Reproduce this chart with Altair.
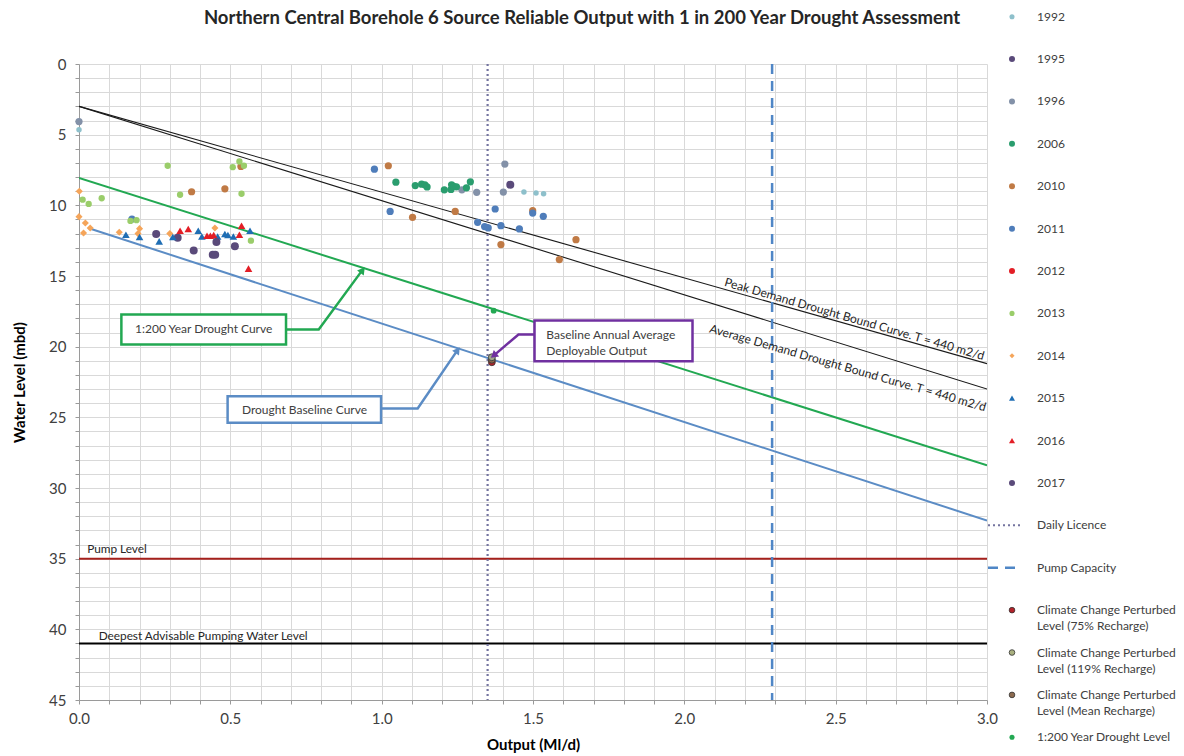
import altair as alt
import pandas as pd

# ---------------------------------------------------------------------------
# Observed operating points: output (Ml/d) and pumping water level (mbd)
# ---------------------------------------------------------------------------
years = ["1992", "1995", "1996", "2006", "2010", "2011",
         "2012", "2013", "2014", "2015", "2016", "2017"]

out_1992 = [0.0, 1.47, 1.51, 1.535]
lvl_1992 = [4.66, 9.06, 9.13, 9.18]

out_1995 = [1.425, 0.255, 0.326]
lvl_1995 = [8.55, 12.03, 12.3]

out_1996 = [0.0, 1.314, 1.402, 1.407, 1.265]
lvl_1996 = [4.07, 9.08, 9.06, 7.08, 8.9]

out_2006 = [1.047, 1.111, 1.132, 1.143, 1.15, 1.207, 1.229, 1.231,
            1.238, 1.247, 1.28, 1.293]
lvl_2006 = [8.36, 8.6, 8.5, 8.55, 8.7, 8.9, 8.88, 8.55,
            8.65, 8.69, 8.76, 8.34]

out_2010 = [0.372, 0.482, 0.535, 1.022, 1.102, 1.243, 1.394, 1.499, 1.642, 1.587]
lvl_2010 = [9.04, 8.83, 7.25, 7.2, 10.85, 10.43, 12.78, 10.38, 12.43, 13.84]

out_2011 = [0.175, 0.976, 1.028, 1.317, 1.34, 1.352, 1.375, 1.394, 1.455, 1.499, 1.534]
lvl_2011 = [10.97, 7.44, 10.43, 11.2, 11.5, 11.6, 10.26, 11.44, 11.67, 10.55, 10.78]

out_2012 = []
lvl_2012 = []

out_2013 = [0.293, 0.508, 0.53, 0.545, 0.012, 0.032, 0.075, 0.334, 0.537, 0.17, 0.19, 0.568]
lvl_2013 = [7.2, 7.3, 6.9, 7.2, 9.6, 9.9, 9.5, 9.25, 9.18, 11.1, 11.05, 12.5]

out_2014 = [0.001, 0.0, 0.021, 0.015, 0.037, 0.133, 0.2, 0.195, 0.3, 0.449]
lvl_2014 = [9.0, 10.8, 11.25, 11.96, 11.6, 11.9, 11.65, 12.0, 12.0, 11.6]

out_2015 = [0.155, 0.2, 0.265, 0.31, 0.394, 0.406, 0.458, 0.482, 0.492, 0.51, 0.565]
lvl_2015 = [12.08, 12.24, 12.55, 12.24, 11.8, 12.2, 12.2, 12.03, 12.1, 12.2, 11.8]

out_2016 = [0.334, 0.361, 0.423, 0.434, 0.445, 0.53, 0.537, 0.56]
lvl_2016 = [11.8, 11.67, 12.15, 12.15, 12.1, 12.08, 11.44, 14.48]

out_2017 = [0.379, 0.442, 0.45, 0.454, 0.515]
lvl_2017 = [13.2, 13.5, 13.5, 12.6, 12.9]

obs_out = {"1992": out_1992, "1995": out_1995, "1996": out_1996, "2006": out_2006,
           "2010": out_2010, "2011": out_2011, "2012": out_2012, "2013": out_2013,
           "2014": out_2014, "2015": out_2015, "2016": out_2016, "2017": out_2017}
obs_lvl = {"1992": lvl_1992, "1995": lvl_1995, "1996": lvl_1996, "2006": lvl_2006,
           "2010": lvl_2010, "2011": lvl_2011, "2012": lvl_2012, "2013": lvl_2013,
           "2014": lvl_2014, "2015": lvl_2015, "2016": lvl_2016, "2017": lvl_2017}

# Drought curves (output vs water level)
peak_out = [0.0, 3.0]
peak_lvl = [3.0, 21.2]
avg_out = [0.0, 3.0]
avg_lvl = [3.0, 23.0]
d200_out = [0.0, 3.0]
d200_lvl = [8.06, 28.4]
base_out = [0.03, 3.0]
base_lvl = [11.6, 32.3]

# Constraints
daily_licence = 1.35      # Ml/d
pump_capacity = 2.29      # Ml/d
pump_level = 35.0         # mbd
deepest_level = 41.0      # mbd

# Deployable output points
cc_names = ["Climate Change Perturbed Level (75% Recharge)",
            "Climate Change Perturbed Level (Mean Recharge)",
            "Climate Change Perturbed Level (119% Recharge)"]
cc_out = [1.364, 1.364, 1.364]
cc_lvl = [21.1, 20.92, 20.75]
d200_pt_out = [1.37]
d200_pt_lvl = [17.45]

# ---------------------------------------------------------------------------
# Styling
# ---------------------------------------------------------------------------
FONT = "Lato"
TXT = "#404040"
GRID = "#D9D9D9"

year_colors = {"1992": "#8EC0CB", "1995": "#5A4A7A", "1996": "#8391A8",
               "2006": "#2A9D6E", "2010": "#C07A45", "2011": "#4F7DBA",
               "2012": "#E31E26", "2013": "#9ACD6A", "2014": "#F5A55A",
               "2015": "#1F6EB4", "2016": "#E31E26", "2017": "#5A4A7A"}
year_shapes = {y: "circle" for y in years}
year_shapes.update({"2014": "diamond", "2015": "triangle-up", "2016": "triangle-up"})
year_sizes = {y: 52 for y in years}
year_sizes.update({"1992": 30, "2013": 40, "1995": 64, "2017": 64,
                   "2015": 58, "2016": 58, "2014": 50})

cc_colors = {"Climate Change Perturbed Level (75% Recharge)": "#B3232A",
             "Climate Change Perturbed Level (Mean Recharge)": "#8C6A4F",
             "Climate Change Perturbed Level (119% Recharge)": "#9EA58A"}

GREEN = "#22A852"
BLUE = "#5B8CC5"
PURPLE = "#7030A0"
LICENCE = "#7474A0"
PUMPCAP = "#4F86C6"

PLOT_W, PLOT_H = 908, 636

x_ticks = [round(i / 10, 1) for i in range(0, 31)]
y_ticks = list(range(0, 46))

xs = alt.Scale(domain=[0, 3], nice=False, zero=False)
ys = alt.Scale(domain=[0, 45], reverse=True, nice=False, zero=False)

x_axis = alt.Axis(
    values=x_ticks, title="Output (Ml/d)",
    labelExpr="abs(datum.value * 2 - round(datum.value * 2)) < 0.001 ? format(datum.value, '.1f') : ''",
    labelOverlap=False, labelFlush=False, labelPadding=7,
    tickSize=4, titlePadding=11)
y_axis = alt.Axis(
    values=y_ticks, title="Water Level (mbd)",
    labelExpr="datum.value % 5 === 0 ? format(datum.value, 'd') : ''",
    labelOverlap=False, labelFlush=False, labelPadding=9,
    tickSize=4, titlePadding=21)


def X(field):
    return alt.X(field, type="quantitative", scale=xs, axis=x_axis)


def Y(field):
    return alt.Y(field, type="quantitative", scale=ys, axis=y_axis)


# ---------------------------------------------------------------------------
# Tables
# ---------------------------------------------------------------------------
obs_rows = []
for yr in years:
    for o, l in zip(obs_out[yr], obs_lvl[yr]):
        obs_rows.append({"year": yr, "out": o, "lvl": l, "sz": year_sizes[yr]})
obs = pd.DataFrame(obs_rows)


def curve(outs, lvls):
    return pd.DataFrame({"out": outs, "lvl": lvls})


layers = []

# Drought curves
for outs, lvls, colour, width in [
    (peak_out, peak_lvl, "#1A1A1A", 1.1),
    (avg_out, avg_lvl, "#1A1A1A", 1.1),
    (d200_out, d200_lvl, GREEN, 2),
    (base_out, base_lvl, BLUE, 2),
]:
    layers.append(alt.Chart(curve(outs, lvls)).mark_line(
        color=colour, strokeWidth=width, clip=True).encode(x=X("out"), y=Y("lvl")))

# Horizontal level limits
layers.append(alt.Chart(pd.DataFrame({"lvl": [pump_level]})).mark_rule(
    color="#A5201C", strokeWidth=2).encode(y=Y("lvl")))
layers.append(alt.Chart(pd.DataFrame({"lvl": [deepest_level]})).mark_rule(
    color="#000000", strokeWidth=2).encode(y=Y("lvl")))

# Vertical output limits
layers.append(alt.Chart(pd.DataFrame({"out": [daily_licence]})).mark_rule(
    color=LICENCE, strokeWidth=2.2, strokeDash=[2, 3]).encode(x=X("out")))
layers.append(alt.Chart(pd.DataFrame({"out": [pump_capacity]})).mark_rule(
    color=PUMPCAP, strokeWidth=2.5, strokeDash=[10, 7]).encode(x=X("out")))

# Observations
layers.append(alt.Chart(obs).mark_point(filled=True, opacity=1).encode(
    x=X("out"), y=Y("lvl"),
    color=alt.Color("year:N", scale=alt.Scale(domain=years, range=[year_colors[y] for y in years]), legend=None),
    shape=alt.Shape("year:N", scale=alt.Scale(domain=years, range=[year_shapes[y] for y in years]), legend=None),
    size=alt.Size("sz:Q", scale=None),
))

# 1:200 year drought level and climate change perturbed levels
layers.append(alt.Chart(curve(d200_pt_out, d200_pt_lvl)).mark_point(
    filled=True, opacity=1, color=GREEN, size=34).encode(x=X("out"), y=Y("lvl")))
cc = pd.DataFrame({"name": cc_names, "out": cc_out, "lvl": cc_lvl,
                   "col": [cc_colors[n] for n in cc_names]})
layers.append(alt.Chart(cc).mark_point(
    filled=True, opacity=1, size=48, stroke="#333333", strokeWidth=0.8).encode(
    x=X("out"), y=Y("lvl"), fill=alt.Fill("col:N", scale=None)))

# Labels along the bound curves
bound_labels = pd.DataFrame({
    "out": [2.562, 2.54], "lvl": [18.05, 21.5],
    "txt": ["Peak Demand Drought Bound Curve. T = 440 m2/d",
            "Average Demand Drought Bound Curve. T = 440 m2/d"]})
layers.append(alt.Chart(bound_labels).mark_text(
    angle=16, font=FONT, fontSize=12, color="#262626", align="center", baseline="middle"
).encode(x=X("out"), y=Y("lvl"), text="txt:N"))

# Level limit labels
limit_labels = pd.DataFrame({"out": [0.027, 0.065], "lvl": [34.3, 40.5],
                             "txt": ["Pump Level", "Deepest  Advisable Pumping Water Level"]})
layers.append(alt.Chart(limit_labels).mark_text(
    font=FONT, fontSize=11.8, color="#262626", align="left", baseline="middle"
).encode(x=X("out"), y=Y("lvl"), text="txt:N"))

# Callout boxes with leader arrows
boxes = pd.DataFrame({
    "x1": [0.140, 0.491, 1.505], "x2": [0.684, 0.998, 2.027],
    "y1": [17.72, 23.50, 18.15], "y2": [19.84, 25.38, 21.03],
    "col": [GREEN, BLUE, PURPLE]})
leaders = pd.DataFrame({
    "id": [0, 0, 0, 1, 1, 1, 2, 2, 2],
    "seq": [0, 1, 2] * 3,
    "out": [0.684, 0.792, 0.935, 0.998, 1.119, 1.249, 1.505, 1.452, 1.372],
    "lvl": [18.78, 18.78, 14.62, 24.37, 24.37, 20.3, 19.14, 19.14, 20.6],
    "col": [GREEN] * 3 + [BLUE] * 3 + [PURPLE] * 3})
heads = pd.DataFrame({"out": [0.937, 1.251, 1.370], "lvl": [14.58, 20.25, 20.62],
                      "ang": [37, 35, 231], "col": [GREEN, BLUE, PURPLE]})

layers.append(alt.Chart(leaders).mark_line(strokeWidth=2.5).encode(
    x=X("out"), y=Y("lvl"), detail="id:N", order="seq:O",
    color=alt.Color("col:N", scale=None)))
layers.append(alt.Chart(heads).mark_point(shape="triangle-up", filled=True, opacity=1, size=70).encode(
    x=X("out"), y=Y("lvl"), angle=alt.Angle("ang:Q", scale=None),
    color=alt.Color("col:N", scale=None)))
layers.append(alt.Chart(boxes).mark_rect(fill="white", strokeWidth=2.5).encode(
    x=X("x1"), x2="x2", y=Y("y1"), y2="y2", stroke=alt.Stroke("col:N", scale=None)))

box_text = pd.DataFrame({"out": [0.412, 0.745], "lvl": [18.78, 24.45],
                         "txt": ["1:200 Year Drought Curve", "Drought Baseline Curve"]})
layers.append(alt.Chart(box_text).mark_text(
    font=FONT, fontSize=12, color=TXT, align="center", baseline="middle"
).encode(x=X("out"), y=Y("lvl"), text="txt:N"))
layers.append(alt.Chart(pd.DataFrame({"out": [1.544], "lvl": [19.14],
                                      "txt": ["Baseline Annual Average\nDeployable Output"]})).mark_text(
    font=FONT, fontSize=12, color=TXT, align="left", baseline="middle", lineBreak="\n", lineHeight=16
).encode(x=X("out"), y=Y("lvl"), text="txt:N"))

main = alt.layer(*layers)

# ---------------------------------------------------------------------------
# Series key down the right-hand side
# ---------------------------------------------------------------------------
key_names = years + ["Daily Licence", "Pump Capacity",
                     "Climate Change Perturbed\nLevel (75% Recharge)",
                     "Climate Change Perturbed\nLevel (119% Recharge)",
                     "Climate Change Perturbed\nLevel (Mean Recharge)",
                     "1:200 Year Drought Level"]
key_cols = [year_colors[y] for y in years] + [LICENCE, PUMPCAP, "#B3232A", "#A9B07F", "#8C6A4F", GREEN]
key_shapes = [year_shapes[y] for y in years] + ["line", "line", "circle", "circle", "circle", "circle"]
key_sizes = [26 if y in ("1992", "2013", "2014") else 36 for y in years] + [0, 0, 32, 32, 32, 26]
key = pd.DataFrame({"idx": list(range(len(key_names))), "name": key_names,
                    "col": key_cols, "shp": key_shapes, "sz": key_sizes})
key["outlined"] = key["name"].str.startswith("Climate")

ky = alt.Y("idx:Q", scale=alt.Scale(domain=[0, 17], range=[-47.3, 673.3]), axis=None)
SYM_X, LINE_X1, LINE_X2, LABEL_X = 933, 909, 941, 958

key_plain = alt.Chart(key).transform_filter(
    "datum.shp != 'line' && !datum.outlined").mark_point(filled=True, opacity=1).encode(
    x=alt.value(SYM_X), y=ky, color=alt.Color("col:N", scale=None),
    shape=alt.Shape("shp:N", scale=None), size=alt.Size("sz:Q", scale=None))
key_outlined = alt.Chart(key).transform_filter("datum.outlined").mark_point(
    filled=True, opacity=1, stroke="#333333", strokeWidth=0.8).encode(
    x=alt.value(SYM_X), y=ky, fill=alt.Fill("col:N", scale=None), size=alt.Size("sz:Q", scale=None))
key_dotted = alt.Chart(key).transform_filter("datum.name == 'Daily Licence'").mark_rule(
    color=LICENCE, strokeWidth=2, strokeDash=[2, 3]).encode(
    x=alt.value(LINE_X1), x2=alt.value(LINE_X2), y=ky)
key_dashed = alt.Chart(key).transform_filter("datum.name == 'Pump Capacity'").mark_rule(
    color=PUMPCAP, strokeWidth=2.5, strokeDash=[10, 7]).encode(
    x=alt.value(LINE_X1), x2=alt.value(LINE_X2), y=ky)
key_text = alt.Chart(key).mark_text(
    font=FONT, fontSize=12, color=TXT, align="left", baseline="top", dy=-5,
    lineBreak="\n", lineHeight=16).encode(x=alt.value(LABEL_X), y=ky, text="name:N")

legend = alt.layer(key_plain, key_outlined, key_dotted, key_dashed, key_text)

chart = alt.layer(main, legend).resolve_scale(
    x="independent", y="independent", color="independent",
    shape="independent", size="independent", fill="independent"
).properties(
    width=PLOT_W, height=PLOT_H,
    title=alt.TitleParams(
        "Northern Central Borehole 6 Source Reliable Output with 1 in 200 Year Drought Assessment",
        font=FONT, fontSize=18.5, fontWeight="bold", color="#262626",
        anchor="middle", dx=49, offset=-17),
    autosize=alt.AutoSizeParams(type="none"),
    padding={"left": 79, "top": 64, "right": 1184 - 79 - PLOT_W, "bottom": 756 - 64 - PLOT_H},
).configure(font=FONT, background="white").configure_view(strokeWidth=0).configure_axis(
    gridColor=GRID, gridWidth=1, domainColor="#9A9A9A", tickColor="#9A9A9A",
    labelFont=FONT, labelFontSize=15, labelColor=TXT,
    titleFont=FONT, titleFontSize=15, titleFontWeight="bold", titleColor="#000000")

chart.save("out.html", embed_options={"renderer": "svg", "actions": False})
